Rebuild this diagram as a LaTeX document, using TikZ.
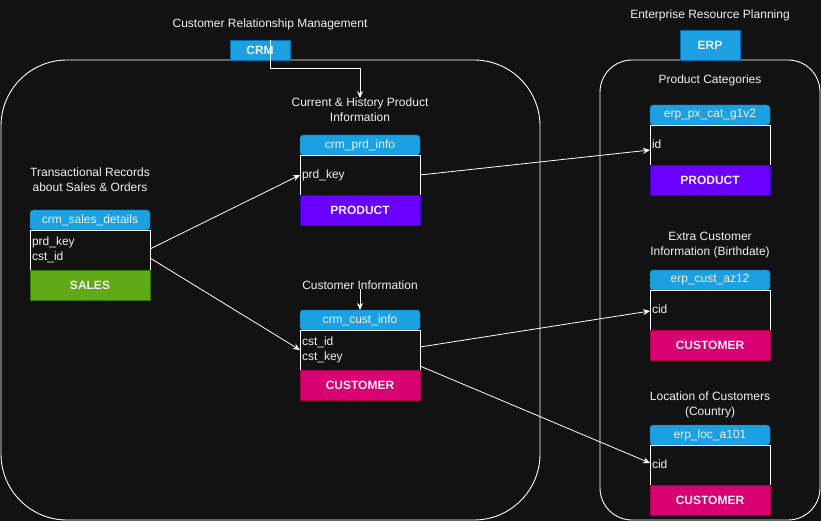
\documentclass[tikz,border=0pt]{standalone}
\usepackage{fontspec}
\setmainfont{Liberation Sans}
\usetikzlibrary{arrows.meta}
\definecolor{bg}{HTML}{121212}
\definecolor{txt}{HTML}{F0F0F0}
\definecolor{hdblue}{HTML}{1BA1E2}
\definecolor{hdline}{HTML}{006EAF}
\definecolor{salesgreen}{HTML}{60A917}
\definecolor{salesline}{HTML}{2D7600}
\definecolor{prodviolet}{HTML}{6A00FF}
\definecolor{prodline}{HTML}{3700CC}
\definecolor{custpink}{HTML}{D80073}
\definecolor{custline}{HTML}{A50040}
\begin{document}
\begin{tikzpicture}[x=1pt, y=-1pt, font=\fontsize{12}{15}\selectfont, line join=miter,
        every node/.style={outer sep=0pt, inner sep=0pt, text=txt},
        caption/.style={align=center},
        srcbox/.style={draw=hdline, fill=hdblue, minimum width=60pt, minimum height=30pt, font=\fontsize{12}{15}\selectfont\bfseries, anchor=north west},
        tblhead/.style={draw=hdline, fill=hdblue, rounded corners=3pt, minimum width=120pt, minimum height=20pt, anchor=north west},
        tblbody/.style={draw=white, fill=bg, minimum width=120pt, minimum height=40pt, text width=116pt, align=left, anchor=north west, execute at begin node={\vphantom{Ag}}},
        salesfoot/.style={draw=salesline, fill=salesgreen, minimum width=120pt, minimum height=30pt, font=\fontsize{12}{15}\selectfont\bfseries, anchor=north west},
        prodfoot/.style={draw=prodline, fill=prodviolet, minimum width=120pt, minimum height=30pt, font=\fontsize{12}{15}\selectfont\bfseries, anchor=north west},
        custfoot/.style={draw=custline, fill=custpink, minimum width=120pt, minimum height=30pt, font=\fontsize{12}{15}\selectfont\bfseries, anchor=north west},
        link/.style={draw=white, line width=0.8pt, -{Stealth[length=7pt, width=6pt]}}]
        \fill[bg] (0, 0) rectangle (821, 521);

        \draw[white, line width=0.9pt, rounded corners=66pt] (1, 60) rectangle (540, 520);
        \draw[white, line width=0.9pt, rounded corners=32pt] (600, 60) rectangle (820, 520);

        \node[caption] (crmlabel) at (270, 24) {Customer Relationship Management};
        \node[srcbox, minimum height=20pt] (crm) at (230, 40) {CRM};
        \node[caption] (erplabel) at (710, 15) {Enterprise Resource Planning};
        \node[srcbox] (erp) at (680, 30) {ERP};

        \node[caption] (saleslabel) at (90, 180) {Transactional Records\\about Sales \& Orders};
        \node[tblhead] (salesh) at (30, 210) {crm\_sales\_details};
        \node[tblbody] (salesbody) at (30, 230) {prd\_key\\cst\_id};
        \node[salesfoot] (salesf) at (30, 270) {SALES};

        \node[caption] (prdlabel) at (360, 110) {Current \& History Product\\Information};
        \node[tblhead] (prdh) at (300, 135) {crm\_prd\_info};
        \node[tblbody] (prdbody) at (300, 155) {prd\_key};
        \node[prodfoot] (prdf) at (300, 195) {PRODUCT};

        \node[caption] (custlabel) at (360, 285) {Customer Information};
        \node[tblhead] (custh) at (300, 310) {crm\_cust\_info};
        \node[tblbody] (custbody) at (300, 330) {cst\_id\\cst\_key};
        \node[custfoot] (custf) at (300, 370) {CUSTOMER};

        \node[caption] (pxlabel) at (710, 80) {Product Categories};
        \node[tblhead] (pxh) at (650, 105) {erp\_px\_cat\_g1v2};
        \node[tblbody] (pxbody) at (650, 125) {id};
        \node[prodfoot] (pxf) at (650, 165) {PRODUCT};

        \node[caption] (azlabel) at (710, 245) {Extra Customer\\Information (Birthdate)};
        \node[tblhead] (azh) at (650, 270) {erp\_cust\_az12};
        \node[tblbody] (azbody) at (650, 290) {cid};
        \node[custfoot] (azf) at (650, 330) {CUSTOMER};

        \node[caption] (loclabel) at (710, 405) {Location of Customers\\(Country)};
        \node[tblhead] (loch) at (650, 425) {erp\_loc\_a101};
        \node[tblbody] (locbody) at (650, 445) {cid};
        \node[custfoot] (locf) at (650, 485) {CUSTOMER};

        \coordinate (crmturn) at (360, 68);
        \draw[link] ([xshift=10pt]crm.north) |- (crmturn) -- (prdlabel.north);
        \draw[link] (custlabel.south) -- (custh.north);

        \draw[link] ([yshift=1pt]salesbody.east) -- (prdbody.west);
        \draw[link] ([yshift=-8pt]salesbody.east) -- (custbody.west);
        \draw[link] (prdbody.east) -- ([yshift=-5pt]pxbody.west);
        \draw[link] ([yshift=3pt]custbody.east) -- ([yshift=-1pt]azbody.west);
        \draw[link] ([yshift=-16pt]custbody.east) -- ([yshift=2pt]locbody.west);
    \end{tikzpicture}
\end{document}
